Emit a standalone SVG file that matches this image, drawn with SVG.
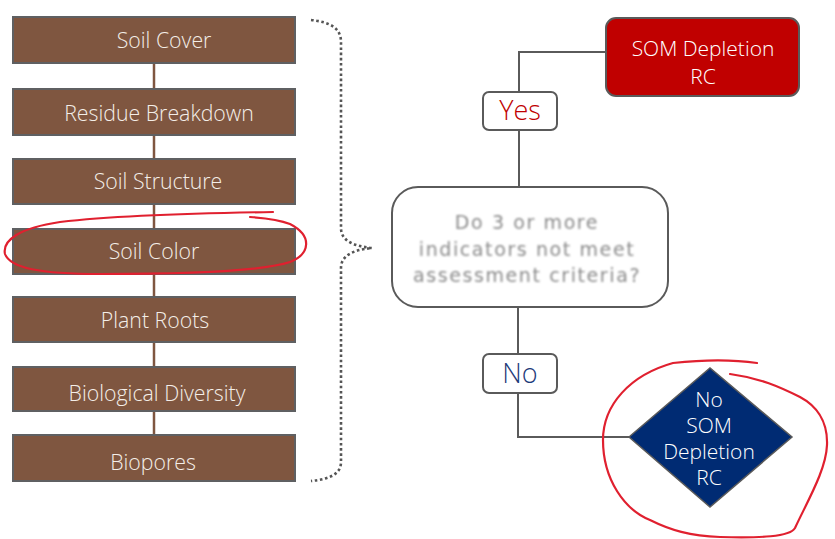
<svg xmlns="http://www.w3.org/2000/svg" width="835" height="539" viewBox="0 0 835 539">
  <defs>
    <style>
      .ind rect { fill: #7f5640; stroke: #5f6062; stroke-width: 2; }
      .ind text { fill: #f4eee8; font-family: "Open Sans", "Noto Sans", sans-serif; font-weight: 300; font-size: 21.3px; text-anchor: middle; }
      .link { fill: none; stroke: #5a5a5a; stroke-width: 2; }
      .stem { fill: none; stroke: #7f5640; stroke-width: 2.5; }
      .brace { fill: none; stroke: #555; stroke-width: 2.6; stroke-dasharray: 2.6 2.6; }
      .ink { fill: none; stroke: #e0202f; stroke-width: 2.2; stroke-linecap: round; stroke-linejoin: round; }
      .lbl { font-family: "Open Sans", "Noto Sans", sans-serif; font-weight: 300; text-anchor: middle; }
    </style>
    <filter id="soft" x="-10%" y="-30%" width="120%" height="160%">
      <feGaussianBlur stdDeviation="1.1"/>
    </filter>
  </defs>

  <rect width="835" height="539" fill="#ffffff"/>

  <!-- stems between the indicator boxes, and flow connectors -->
  <g id="connectors">
    <line class="stem" x1="154" y1="63" x2="154" y2="89"/>
    <line class="stem" x1="154" y1="135" x2="154" y2="159"/>
    <line class="stem" x1="154" y1="204" x2="154" y2="229"/>
    <line class="stem" x1="154" y1="274" x2="154" y2="297"/>
    <line class="stem" x1="154" y1="342" x2="154" y2="367"/>
    <line class="stem" x1="154" y1="411" x2="154" y2="435"/>
    <polyline class="link" points="606,52 519,52 519,92"/>
    <line class="link" x1="519" y1="130" x2="519" y2="187"/>
    <line class="link" x1="518" y1="307" x2="518" y2="354"/>
    <polyline class="link" points="518,393 518,437 629,437"/>
    <path class="brace" d="M311,20 C330,22 341,28 341,42 L341,228 C341,240 352,246 372,248 C352,250 341,256 341,268 L341,462 C341,474 330,479 311,481"/>
  </g>

  <g id="soil-cover" class="ind">
    <rect x="13" y="17" width="282" height="46"/>
    <text x="164" y="48">Soil Cover</text>
  </g>
  <g id="residue-breakdown" class="ind">
    <rect x="13" y="89" width="282" height="46"/>
    <text x="159" y="121">Residue Breakdown</text>
  </g>
  <g id="soil-structure" class="ind">
    <rect x="13" y="159" width="282" height="45"/>
    <text x="158" y="189">Soil Structure</text>
  </g>
  <g id="soil-color" class="ind">
    <rect x="13" y="229" width="282" height="45"/>
    <text x="154" y="259">Soil Color</text>
  </g>
  <g id="plant-roots" class="ind">
    <rect x="13" y="297" width="282" height="45"/>
    <text x="155" y="328">Plant Roots</text>
  </g>
  <g id="biological-diversity" class="ind">
    <rect x="13" y="367" width="282" height="44"/>
    <text x="157" y="401">Biological Diversity</text>
  </g>
  <g id="biopores" class="ind">
    <rect x="13" y="435" width="282" height="46"/>
    <text x="153" y="470">Biopores</text>
  </g>

  <g id="som-depletion">
    <rect x="606" y="18" width="193" height="78" rx="10" fill="#c00000" stroke="#5a5a5a" stroke-width="2"/>
    <text class="lbl" x="703" y="56" font-size="21" fill="#ffffff">SOM Depletion</text>
    <text class="lbl" x="703" y="84" font-size="21" fill="#ffffff">RC</text>
  </g>

  <g id="yes">
    <rect x="483" y="92" width="74" height="38" rx="6" fill="#ffffff" stroke="#5a5a5a" stroke-width="2"/>
    <text class="lbl" x="520" y="120" font-size="27" fill="#c00000">Yes</text>
  </g>

  <g id="decision">
    <rect x="392" y="187" width="276" height="120" rx="26" fill="#ffffff" stroke="#5a5a5a" stroke-width="2"/>
    <g filter="url(#soft)" font-family="'DejaVu Sans', Verdana, sans-serif" font-size="19" fill="#8a8a8a" text-anchor="middle" letter-spacing="1.6">
      <text x="527" y="229">Do 3 or more</text>
      <text x="527" y="256">indicators not meet</text>
      <text x="527" y="282">assessment criteria?</text>
    </g>
  </g>

  <g id="no">
    <rect x="483" y="354" width="74" height="39" rx="6" fill="#ffffff" stroke="#5a5a5a" stroke-width="2"/>
    <text class="lbl" x="520" y="383" font-size="27" fill="#1f3b7a">No</text>
  </g>

  <g id="no-som-depletion">
    <polygon points="629,437 710,368 792,437 710,507" fill="#002b73" stroke="#5a5a5a" stroke-width="1.5"/>
    <text class="lbl" x="709" y="407" font-size="21" fill="#ffffff">No</text>
    <text class="lbl" x="709" y="433" font-size="21" fill="#ffffff">SOM</text>
    <text class="lbl" x="709" y="459" font-size="21" fill="#ffffff">Depletion</text>
    <text class="lbl" x="709" y="485" font-size="21" fill="#ffffff">RC</text>
  </g>

  <!-- hand-drawn markup -->
  <g id="markup">
    <path class="ink" d="M273,212 C200,213 120,215 60,222 C20,228 2,240 5,254 C10,268 40,274 100,274 C180,274 260,272 290,262 C310,254 313,236 290,224 C280,220 265,218 250,217"/>
    <path class="ink" d="M757,363 C730,359 700,360 673,363 C630,375 603,405 603,440 C603,480 625,510 650,520 C670,530 690,536 720,537 C760,538 790,537 795,528 C808,500 826,470 827,445 C828,420 815,405 800,397 C780,387 760,378 730,374"/>
  </g>
</svg>
